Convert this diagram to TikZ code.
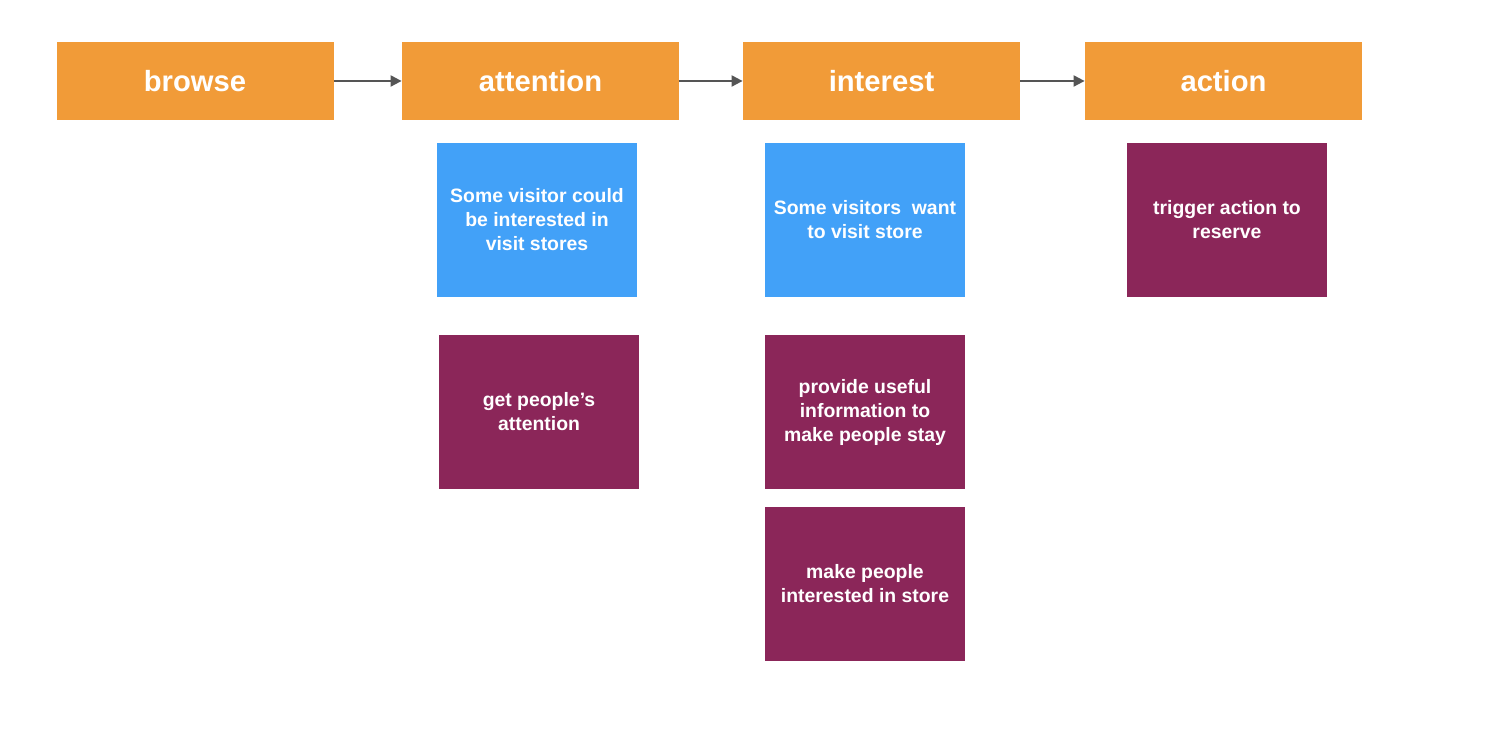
\documentclass[tikz,border=0pt]{standalone}
\usepackage{fontspec}
\setmainfont{Liberation Sans}
\usetikzlibrary{arrows.meta}
\definecolor{orng}{HTML}{F19B38}
\definecolor{blu}{HTML}{42A1F8}
\definecolor{purp}{HTML}{8B2659}
\definecolor{arr}{HTML}{555555}
\begin{document}
\begin{tikzpicture}[x=0.5pt,y=-0.5pt,
  head/.style={fill=orng,draw=none,text=white,minimum width=138.5pt,minimum height=39pt,inner sep=0pt,font=\bfseries\fontsize{14.6}{17}\selectfont},
  card/.style={draw=none,text=white,minimum width=100pt,minimum height=77pt,inner sep=0pt,align=center,font=\bfseries\fontsize{9.7}{12}\selectfont},
  bcard/.style={card,fill=blu},
  pcard/.style={card,fill=purp},
  link/.style={draw=arr,line width=1pt,-{Triangle[length=5.5pt,width=5.5pt]}}]
\useasboundingbox (0,0) rectangle (1488,742);
\node[head] (browse) at (195,81) {browse};
\node[head] (attention) at (540.5,81) {attention};
\node[head] (interest) at (881.5,81) {interest};
\node[head] (action) at (1223.5,81) {action};
\node[bcard] (b1) at (537,220) {Some visitor could\\be interested in\\visit stores};
\node[pcard] (p1) at (539,412) {get people’s\\attention};
\node[bcard] (b2) at (865,220) {Some visitors\ \ want\\to visit store};
\node[pcard] (p2) at (865,412) {provide useful\\information to\\make people stay};
\node[pcard] (p3) at (865,584) {make people\\interested in store};
\node[pcard] (p4) at (1227,220) {trigger action to\\reserve};
\draw[link] (browse) -- (attention);
\draw[link] (attention) -- (interest);
\draw[link] (interest) -- (action);
\end{tikzpicture}
\end{document}
